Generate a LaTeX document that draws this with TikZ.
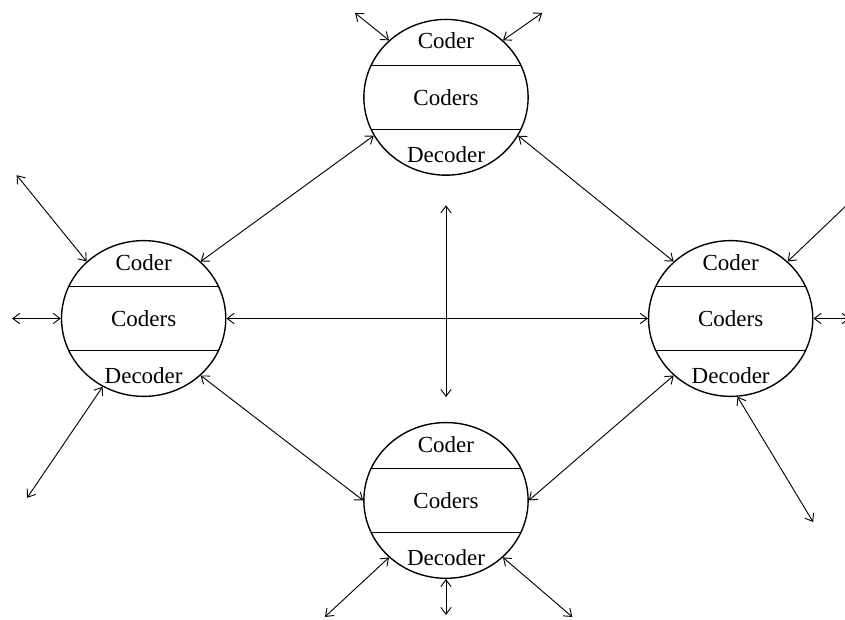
\documentclass[tikz,border=0pt]{standalone}
\usepackage{fontspec}
\setmainfont{Liberation Serif}
\usetikzlibrary{shapes.geometric,arrows.meta}

\tikzset{station/.style={shape=ellipse,draw,line width=0.6pt,minimum width=2.51cm,minimum height=2.38cm,inner sep=0pt}}

\begin{document}
\begin{tikzpicture}[>={Straight Barb[length=3pt,width=4.5pt]}]
  \useasboundingbox (-6.815,-4.607) rectangle (6.097,4.867);

  \node[station] (T) at (0,3.38)  {Coders};
  \node[station] (L) at (-4.62,0) {Coders};
  \node[station] (R) at (4.35,0)  {Coders};
  \node[station] (B) at (0,-2.78) {Coders};

  % the three parts of each station
  \foreach \n in {T,L,R,B} {
    \node (\n-in)  at ([yshift=0.86cm]\n.center)  {Coder};
    \node (\n-out) at ([yshift=-0.88cm]\n.center) {Decoder};
    \draw ([shift={(-1.145,0.49)}]\n.center) -- ++(2.29,0);
    \draw ([shift={(-1.145,-0.485)}]\n.center) -- ++(2.29,0);
  }

  % loose ends
  \coordinate (mid-up)   at (0,1.73);
  \coordinate (mid-down) at (0,-1.2);
  \coordinate (T-a) at (-1.39,4.67);
  \coordinate (T-b) at (1.47,4.67);
  \coordinate (L-a) at (-6.56,2.19);
  \coordinate (L-b) at (-6.63,0);
  \coordinate (L-c) at (-6.40,-2.74);
  \coordinate (R-a) at (6.30,1.90);
  \coordinate (R-b) at (6.17,0);
  \coordinate (R-c) at (5.61,-3.11);
  \coordinate (B-a) at (-1.85,-4.56);
  \coordinate (B-b) at (0,-4.53);
  \coordinate (B-c) at (1.93,-4.56);

  \path[<->] (L.45)   edge (T.208)
             (T.-28)  edge (R.135)
             (L.-45)  edge (B.west)
             (B.east) edge (R.225)
             (L.east) edge (R.west)
             (mid-up) edge (mid-down)
             (T.135)  edge (T-a)
             (T.45)   edge (T-b)
             (L.135)  edge (L-a)
             (L.west) edge (L-b)
             (L.239)  edge (L-c)
             (R.45)   edge (R-a)
             (R.east) edge (R-b)
             (R.275)  edge (R-c)
             (B.225)  edge (B-a)
             (B.south) edge (B-b)
             (B.-45)  edge (B-c);
\end{tikzpicture}
\end{document}
